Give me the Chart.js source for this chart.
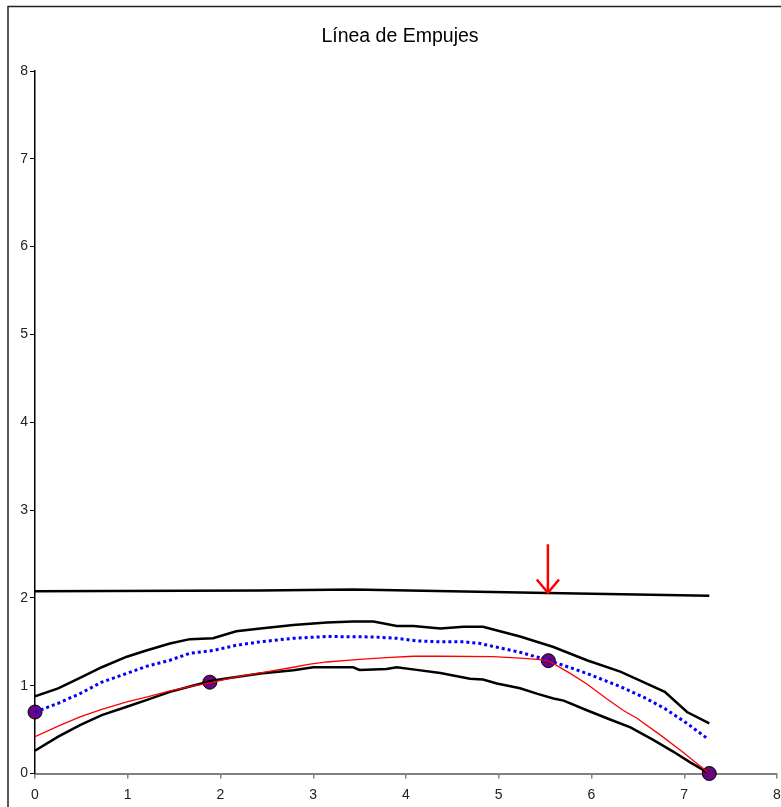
<!DOCTYPE html>
<html>
<head>
<meta charset="utf-8">
<script src="https://cdn.jsdelivr.net/npm/chart.js@4"></script>
<style>
  html, body { margin: 0; padding: 0; background: #fff; }
  #wrap { position: relative; width: 781px; height: 807px; }
</style>
</head>
<body>
<div id="wrap"><canvas id="c" width="781" height="807"></canvas></div>
<script>
// Chart heading
const chartTitle = 'Línea de Empujes';

// Horizontal reference line (top of section)
const topX = [0, 2.43, 3.43, 5.23, 5.53, 7.27];
const topY = [2.075, 2.085, 2.095, 2.06, 2.055, 2.025];

// Upper boundary of the arch
const upperX = [0, 0.25, 0.485, 0.72, 0.99, 1.2, 1.455, 1.67, 1.92, 2.17, 2.43, 2.785, 3.145, 3.43, 3.65, 3.9, 4.08, 4.37, 4.62, 4.83, 5.23, 5.59, 5.95, 6.31, 6.56, 6.79, 7.03, 7.27];
const upperY = [0.88, 0.97, 1.09, 1.21, 1.33, 1.4, 1.48, 1.53, 1.54, 1.62, 1.65, 1.69, 1.72, 1.73, 1.73, 1.68, 1.68, 1.65, 1.67, 1.67, 1.56, 1.44, 1.29, 1.16, 1.04, 0.93, 0.7, 0.57];

// Middle (dotted) line
const middleX = [0, 0.25, 0.485, 0.72, 0.99, 1.2, 1.455, 1.67, 1.92, 2.17, 2.43, 2.785, 3.145, 3.65, 3.9, 4.115, 4.37, 4.62, 4.8, 5.23, 5.535, 5.95, 6.31, 6.56, 6.79, 7.03, 7.26];
const middleY = [0.7, 0.8, 0.91, 1.04, 1.14, 1.22, 1.29, 1.37, 1.4, 1.46, 1.5, 1.54, 1.56, 1.555, 1.54, 1.51, 1.5, 1.5, 1.48, 1.38, 1.29, 1.14, 0.99, 0.87, 0.74, 0.57, 0.39];

// Thrust line
const thrustX = [0, 0.25, 0.485, 0.72, 0.99, 1.2, 1.455, 1.67, 1.92, 2.17, 2.43, 2.785, 2.965, 3.145, 3.5, 3.79, 4.08, 4.37, 4.94, 5.23, 5.41, 5.535, 5.77, 5.95, 6.16, 6.34, 6.49, 6.74, 6.99, 7.27];
const thrustY = [0.42, 0.54, 0.645, 0.73, 0.815, 0.87, 0.94, 0.99, 1.04, 1.1, 1.145, 1.21, 1.245, 1.27, 1.3, 1.32, 1.335, 1.335, 1.33, 1.315, 1.3, 1.285, 1.14, 1.02, 0.855, 0.72, 0.63, 0.44, 0.24, 0];

// Lower boundary of the arch
const lowerX = [0, 0.25, 0.485, 0.72, 0.99, 1.2, 1.455, 1.67, 1.92, 2.17, 2.43, 2.785, 3.0, 3.43, 3.5, 3.79, 3.9, 4.115, 4.37, 4.69, 4.83, 4.98, 5.23, 5.41, 5.59, 5.7, 5.95, 6.2, 6.42, 6.67, 6.88, 7.06, 7.27];
const lowerY = [0.26, 0.42, 0.55, 0.665, 0.76, 0.835, 0.93, 0.99, 1.06, 1.1, 1.14, 1.175, 1.21, 1.21, 1.18, 1.19, 1.21, 1.18, 1.145, 1.08, 1.07, 1.025, 0.97, 0.91, 0.855, 0.83, 0.72, 0.615, 0.525, 0.38, 0.25, 0.13, 0];

// Control points of the thrust line
const pointX = [0, 1.885, 5.535, 7.27];
const pointY = [0.7, 1.04, 1.285, 0];

// Load arrow (shaft and head)
const arrowShaftX = [5.53, 5.53];
const arrowShaftY = [2.61, 2.06];
const arrowHeadX = [5.41, 5.53, 5.65];
const arrowHeadY = [2.21, 2.057, 2.21];

// Axis ticks
const xTicks = [0, 1, 2, 3, 4, 5, 6, 7, 8];
const yTicks = [0, 1, 2, 3, 4, 5, 6, 7, 8];

const pts = (xs, ys) => xs.map((x, i) => ({ x: x, y: ys[i] }));

const lineDs = (xs, ys, color, width, extra) => Object.assign({
  data: pts(xs, ys),
  borderColor: color,
  borderWidth: width,
  pointRadius: 0,
  tension: 0,
  fill: false,
  showLine: true
}, extra || {});

const FONT = '"Liberation Sans", Arial, sans-serif';
Chart.defaults.font.family = FONT;
Chart.defaults.color = '#000';

// Outer frame and heading, centred over the plot area
const frame = {
  id: 'frame',
  afterDraw(chart) {
    const ctx = chart.ctx;
    const area = chart.chartArea;
    ctx.save();
    ctx.strokeStyle = '#222';
    ctx.lineWidth = 1.5;
    ctx.beginPath();
    ctx.moveTo(8, 812);
    ctx.lineTo(8, 6.5);
    ctx.lineTo(790, 6.5);
    ctx.stroke();
    ctx.fillStyle = '#000';
    ctx.font = '19.5px ' + FONT;
    ctx.textAlign = 'center';
    ctx.textBaseline = 'middle';
    ctx.fillText(chartTitle, (area.left + area.right) / 2 - 6, 37);
    ctx.restore();
  }
};

new Chart(document.getElementById('c'), {
  type: 'line',
  data: {
    datasets: [
      lineDs(topX, topY, '#000', 2.5, { order: 2 }),
      lineDs(upperX, upperY, '#000', 2.5, { order: 2 }),
      lineDs(lowerX, lowerY, '#000', 2.5, { order: 2 }),
      lineDs(middleX, middleY, '#0000ff', 3, { borderDash: [3, 3], order: 2 }),
      {
        data: pts(pointX, pointY),
        showLine: false,
        pointRadius: 7,
        pointBackgroundColor: '#66067f',
        pointBorderColor: '#000',
        pointBorderWidth: 1,
        clip: false,
        order: 5
      },
      lineDs(thrustX, thrustY, '#ff0000', 1.3, { order: 1 }),
      lineDs(arrowShaftX, arrowShaftY, '#ff0000', 2.5, { order: 0 }),
      lineDs(arrowHeadX, arrowHeadY, '#ff0000', 2.5, { order: 0 })
    ]
  },
  options: {
    responsive: false,
    animation: false,
    events: [],
    layout: { autoPadding: false, padding: { left: 0, right: 4, top: 71, bottom: 0 } },
    plugins: {
      legend: { display: false },
      tooltip: { enabled: false },
      title: { display: false }
    },
    scales: {
      x: {
        type: 'linear',
        min: 0,
        max: 8,
        afterBuildTicks(s) { s.ticks = xTicks.map(v => ({ value: v })); },
        ticks: { color: '#222', font: { size: 14 }, padding: 8, maxRotation: 0 },
        grid: { drawOnChartArea: false, drawTicks: true, tickLength: 5, color: '#808080', lineWidth: 1.5 },
        border: { color: '#808080', width: 2 },
        afterFit(s) { s.height = 33.5; s.paddingRight = 0; s.paddingLeft = 0; }
      },
      y: {
        type: 'linear',
        min: 0,
        max: 8,
        afterBuildTicks(s) { s.ticks = yTicks.map(v => ({ value: v })); },
        ticks: { color: '#222', font: { size: 14 }, padding: 2 },
        grid: { drawOnChartArea: false, drawTicks: true, tickLength: 5, color: '#000', lineWidth: 1 },
        border: { color: '#000', width: 1.5 },
        afterFit(s) { s.width = 35; s.paddingTop = 0; s.paddingBottom = 0; }
      }
    }
  },
  plugins: [frame]
});
</script>
</body>
</html>
